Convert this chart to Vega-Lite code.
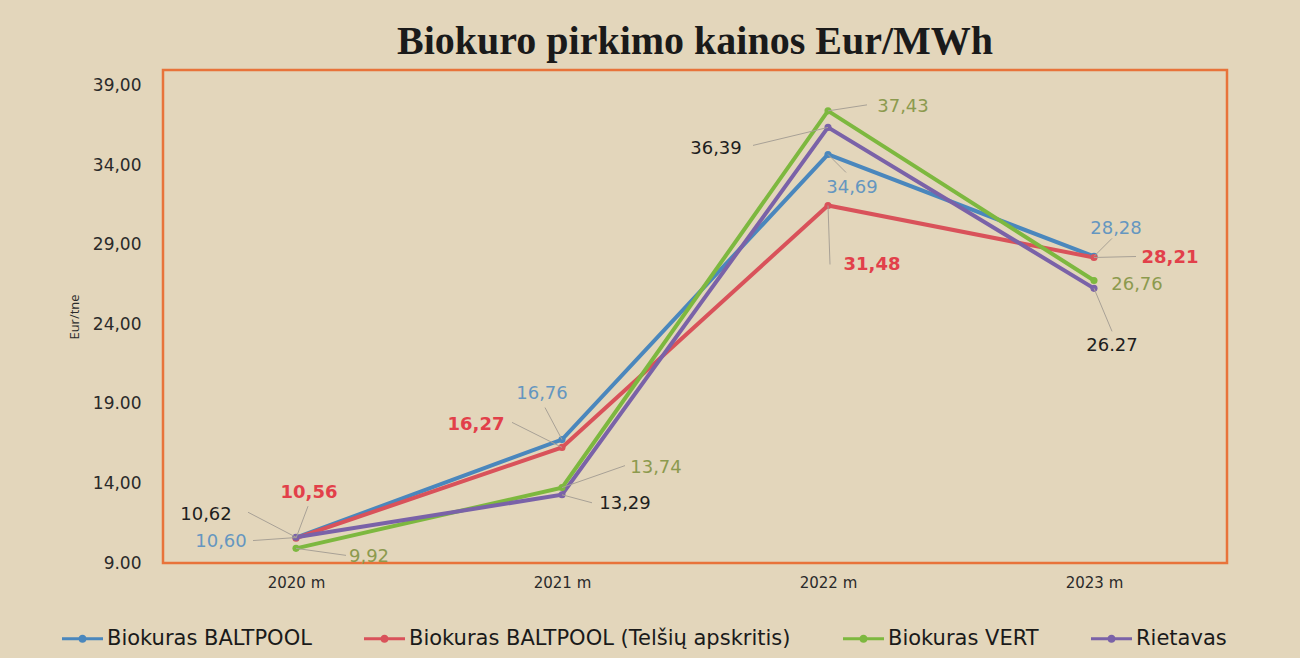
{
  "$schema": "https://vega.github.io/schema/vega-lite/v6.json",
  "width": 1064,
  "height": 493,
  "autosize": {"type": "none"},
  "padding": {"left": 163, "top": 70, "right": 73, "bottom": 95},
  "background": "#e3d6bb",
  "title": {"text": "Biokuro pirkimo kainos Eur/MWh", "font": "Liberation Serif", "fontSize": 40, "fontWeight": "bold", "color": "#1a1a1a", "offset": 8},
  "config": {"view": {"stroke": "#e8733a", "strokeWidth": 2.5}, "font": "DejaVu Sans"},
  "data": {"values": [
    {"series": "Biokuras BALTPOOL", "year": "2020 m", "value": 10.60, "label": "10,60"},
    {"series": "Biokuras BALTPOOL", "year": "2021 m", "value": 16.76, "label": "16,76"},
    {"series": "Biokuras BALTPOOL", "year": "2022 m", "value": 34.69, "label": "34,69"},
    {"series": "Biokuras BALTPOOL", "year": "2023 m", "value": 28.28, "label": "28,28"},
    {"series": "Biokuras BALTPOOL (Telšių apskritis)", "year": "2020 m", "value": 10.56, "label": "10,56"},
    {"series": "Biokuras BALTPOOL (Telšių apskritis)", "year": "2021 m", "value": 16.27, "label": "16,27"},
    {"series": "Biokuras BALTPOOL (Telšių apskritis)", "year": "2022 m", "value": 31.48, "label": "31,48"},
    {"series": "Biokuras BALTPOOL (Telšių apskritis)", "year": "2023 m", "value": 28.21, "label": "28,21"},
    {"series": "Biokuras VERT", "year": "2020 m", "value": 9.92, "label": "9,92"},
    {"series": "Biokuras VERT", "year": "2021 m", "value": 13.74, "label": "13,74"},
    {"series": "Biokuras VERT", "year": "2022 m", "value": 37.43, "label": "37,43"},
    {"series": "Biokuras VERT", "year": "2023 m", "value": 26.76, "label": "26,76"},
    {"series": "Rietavas", "year": "2020 m", "value": 10.62, "label": "10,62"},
    {"series": "Rietavas", "year": "2021 m", "value": 13.29, "label": "13,29"},
    {"series": "Rietavas", "year": "2022 m", "value": 36.39, "label": "36,39"},
    {"series": "Rietavas", "year": "2023 m", "value": 26.27, "label": "26.27"}
  ]},
  "encoding": {
    "x": {"field": "year", "type": "ordinal", "scale": {"type": "point", "padding": 0.5},
      "axis": {"title": null, "labelAngle": 0, "domain": false, "ticks": false, "grid": false, "labelPadding": 12, "labelFontSize": 15, "labelColor": "#2a2a2a"}},
    "y": {"field": "value", "type": "quantitative", "scale": {"domain": [9, 40], "nice": false, "zero": false},
      "axis": {"values": [9, 14, 19, 24, 29, 34, 39], "labelExpr": "datum.value==9?'9.00':datum.value==19?'19.00':replace(format(datum.value,'.2f'),'.',',')", "grid": false, "domain": false, "ticks": false, "labelPadding": 22, "labelFontSize": 17, "labelColor": "#2a2a2a", "title": "Eur/tne", "titleFont": "Open Sans", "titleFontSize": 13, "titleFontWeight": "normal", "titlePadding": 11, "titleColor": "#2a2a2a"}}
  },
  "layer": [
    {"mark": {"type": "line", "strokeWidth": 4},
     "encoding": {"color": {"field": "series", "type": "nominal",
       "scale": {"domain": ["Biokuras BALTPOOL", "Biokuras BALTPOOL (Telšių apskritis)", "Biokuras VERT", "Rietavas"], "range": ["#4a87bd", "#d9525a", "#7db83f", "#7a62a8"]},
       "legend": {"title": null, "orient": "none", "legendX": -101, "legendY": 548, "direction": "horizontal", "columns": 4,
         "symbolType": "M-1,-0.075H1V0.075H-1Z M0.2,0A0.2,0.2 0 1,1 -0.2,0A0.2,0.2 0 1,1 0.2,0Z",
         "symbolSize": 1681, "symbolStrokeWidth": 0, "labelFontSize": 21, "labelFont": "DejaVu Sans", "labelColor": "#1a1a1a", "columnPadding": 52, "labelOffset": 4, "labelLimit": 700,
         "encode": {"symbols": {"update": {"fill": {"scale": "color", "field": "value"}, "stroke": {"value": "transparent"}}}}}}}},
    {"mark": {"type": "point", "filled": true, "size": 50, "opacity": 1},
     "encoding": {"color": {"field": "series", "type": "nominal"}}},
    {"transform": [{"filter": "datum.series=='Rietavas' && datum.year=='2020 m'"}], "layer": [
      {"mark": {"type": "rule", "color": "#a8a196", "strokeWidth": 1, "x2Offset": -48, "y2Offset": -25}, "encoding": {"x2": {"field": "year"}, "y2": {"field": "value"}}},
      {"mark": {"type": "text", "dx": -90, "dy": -22, "fontSize": 18, "color": "#1e1e1e"}, "encoding": {"text": {"field": "label"}}}]},
    {"transform": [{"filter": "datum.series=='Biokuras BALTPOOL (Telšių apskritis)' && datum.year=='2020 m'"}], "layer": [
      {"mark": {"type": "rule", "color": "#a8a196", "strokeWidth": 1, "x2Offset": 12, "y2Offset": -32}, "encoding": {"x2": {"field": "year"}, "y2": {"field": "value"}}},
      {"mark": {"type": "text", "dx": 13, "dy": -45, "fontSize": 18, "fontWeight": "bold", "color": "#e2404a"}, "encoding": {"text": {"field": "label"}}}]},
    {"transform": [{"filter": "datum.series=='Biokuras BALTPOOL' && datum.year=='2020 m'"}], "layer": [
      {"mark": {"type": "rule", "color": "#a8a196", "strokeWidth": 1, "x2Offset": -43, "y2Offset": 3}, "encoding": {"x2": {"field": "year"}, "y2": {"field": "value"}}},
      {"mark": {"type": "text", "dx": -75, "dy": 4, "fontSize": 18, "color": "#6596c0"}, "encoding": {"text": {"field": "label"}}}]},
    {"transform": [{"filter": "datum.series=='Biokuras VERT' && datum.year=='2020 m'"}], "layer": [
      {"mark": {"type": "rule", "color": "#a8a196", "strokeWidth": 1, "x2Offset": 50, "y2Offset": 7}, "encoding": {"x2": {"field": "year"}, "y2": {"field": "value"}}},
      {"mark": {"type": "text", "dx": 73, "dy": 9, "fontSize": 18, "color": "#8c9a4e"}, "encoding": {"text": {"field": "label"}}}]},
    {"transform": [{"filter": "datum.series=='Biokuras BALTPOOL' && datum.year=='2021 m'"}], "layer": [
      {"mark": {"type": "rule", "color": "#a8a196", "strokeWidth": 1, "x2Offset": -17, "y2Offset": -32}, "encoding": {"x2": {"field": "year"}, "y2": {"field": "value"}}},
      {"mark": {"type": "text", "dx": -20, "dy": -46, "fontSize": 18, "color": "#6596c0"}, "encoding": {"text": {"field": "label"}}}]},
    {"transform": [{"filter": "datum.series=='Biokuras BALTPOOL (Telšių apskritis)' && datum.year=='2021 m'"}], "layer": [
      {"mark": {"type": "rule", "color": "#a8a196", "strokeWidth": 1, "x2Offset": -50, "y2Offset": -25}, "encoding": {"x2": {"field": "year"}, "y2": {"field": "value"}}},
      {"mark": {"type": "text", "dx": -86, "dy": -22, "fontSize": 18, "fontWeight": "bold", "color": "#e2404a"}, "encoding": {"text": {"field": "label"}}}]},
    {"transform": [{"filter": "datum.series=='Biokuras VERT' && datum.year=='2021 m'"}], "layer": [
      {"mark": {"type": "rule", "color": "#a8a196", "strokeWidth": 1, "x2Offset": 63, "y2Offset": -22}, "encoding": {"x2": {"field": "year"}, "y2": {"field": "value"}}},
      {"mark": {"type": "text", "dx": 94, "dy": -20, "fontSize": 18, "color": "#8c9a4e"}, "encoding": {"text": {"field": "label"}}}]},
    {"transform": [{"filter": "datum.series=='Rietavas' && datum.year=='2021 m'"}], "layer": [
      {"mark": {"type": "rule", "color": "#a8a196", "strokeWidth": 1, "x2Offset": 30, "y2Offset": 8}, "encoding": {"x2": {"field": "year"}, "y2": {"field": "value"}}},
      {"mark": {"type": "text", "dx": 63, "dy": 9, "fontSize": 18, "color": "#1e1e1e"}, "encoding": {"text": {"field": "label"}}}]},
    {"transform": [{"filter": "datum.series=='Biokuras VERT' && datum.year=='2022 m'"}], "layer": [
      {"mark": {"type": "rule", "color": "#a8a196", "strokeWidth": 1, "x2Offset": 39, "y2Offset": -6}, "encoding": {"x2": {"field": "year"}, "y2": {"field": "value"}}},
      {"mark": {"type": "text", "dx": 75, "dy": -4, "fontSize": 18, "color": "#8c9a4e"}, "encoding": {"text": {"field": "label"}}}]},
    {"transform": [{"filter": "datum.series=='Rietavas' && datum.year=='2022 m'"}], "layer": [
      {"mark": {"type": "rule", "color": "#a8a196", "strokeWidth": 1, "x2Offset": -75, "y2Offset": 18}, "encoding": {"x2": {"field": "year"}, "y2": {"field": "value"}}},
      {"mark": {"type": "text", "dx": -112, "dy": 22, "fontSize": 18, "color": "#1e1e1e"}, "encoding": {"text": {"field": "label"}}}]},
    {"transform": [{"filter": "datum.series=='Biokuras BALTPOOL' && datum.year=='2022 m'"}], "layer": [
      {"mark": {"type": "rule", "color": "#a8a196", "strokeWidth": 1, "x2Offset": 18, "y2Offset": 18}, "encoding": {"x2": {"field": "year"}, "y2": {"field": "value"}}},
      {"mark": {"type": "text", "dx": 24, "dy": 34, "fontSize": 18, "color": "#6596c0"}, "encoding": {"text": {"field": "label"}}}]},
    {"transform": [{"filter": "datum.series=='Biokuras BALTPOOL (Telšių apskritis)' && datum.year=='2022 m'"}], "layer": [
      {"mark": {"type": "rule", "color": "#a8a196", "strokeWidth": 1, "x2Offset": 2, "y2Offset": 59}, "encoding": {"x2": {"field": "year"}, "y2": {"field": "value"}}},
      {"mark": {"type": "text", "dx": 44, "dy": 60, "fontSize": 18, "fontWeight": "bold", "color": "#e2404a"}, "encoding": {"text": {"field": "label"}}}]},
    {"transform": [{"filter": "datum.series=='Biokuras BALTPOOL' && datum.year=='2023 m'"}], "layer": [
      {"mark": {"type": "rule", "color": "#a8a196", "strokeWidth": 1, "x2Offset": 18, "y2Offset": -18}, "encoding": {"x2": {"field": "year"}, "y2": {"field": "value"}}},
      {"mark": {"type": "text", "dx": 22, "dy": -27, "fontSize": 18, "color": "#6596c0"}, "encoding": {"text": {"field": "label"}}}]},
    {"transform": [{"filter": "datum.series=='Biokuras BALTPOOL (Telšių apskritis)' && datum.year=='2023 m'"}], "layer": [
      {"mark": {"type": "rule", "color": "#a8a196", "strokeWidth": 1, "x2Offset": 42, "y2Offset": -1}, "encoding": {"x2": {"field": "year"}, "y2": {"field": "value"}}},
      {"mark": {"type": "text", "dx": 76, "dy": 1, "fontSize": 18, "fontWeight": "bold", "color": "#e2404a"}, "encoding": {"text": {"field": "label"}}}]},
    {"transform": [{"filter": "datum.series=='Biokuras VERT' && datum.year=='2023 m'"}],
      "mark": {"type": "text", "dx": 43, "dy": 4, "fontSize": 18, "color": "#8c9a4e"}, "encoding": {"text": {"field": "label"}}},
    {"transform": [{"filter": "datum.series=='Rietavas' && datum.year=='2023 m'"}], "layer": [
      {"mark": {"type": "rule", "color": "#a8a196", "strokeWidth": 1, "x2Offset": 18, "y2Offset": 43}, "encoding": {"x2": {"field": "year"}, "y2": {"field": "value"}}},
      {"mark": {"type": "text", "dx": 18, "dy": 58, "fontSize": 18, "color": "#1e1e1e"}, "encoding": {"text": {"field": "label"}}}]}
  ]
}
